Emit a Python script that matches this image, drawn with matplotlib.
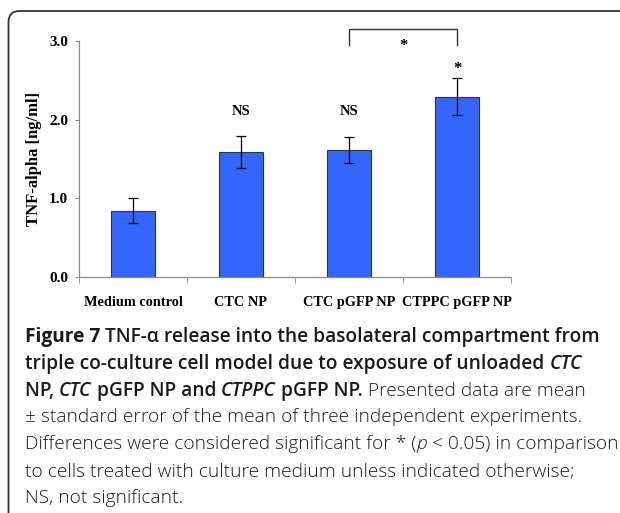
import matplotlib
matplotlib.use("Agg")
import matplotlib.pyplot as plt
from matplotlib.patches import FancyBboxPatch

# data
groups = ["Medium control", "CTC NP", "CTC pGFP NP", "CTPPC pGFP NP"]
tnf_mean = [0.845, 1.59, 1.62, 2.29]
tnf_sem = [0.155, 0.20, 0.165, 0.235]
sig_marks = ["", "NS", "NS", "*"]
yticks = [0.0, 1.0, 2.0, 3.0]

caption_lines = [
    [("Figure 7 ", "bold", "normal"),
     ("TNF-\u03b1 release into the basolateral compartment from", "semibold", "normal")],
    [("triple co-culture cell model due to exposure of unloaded ", "semibold", "normal"),
     ("CTC", "semibold", "italic")],
    [("NP, ", "semibold", "normal"), ("CTC", "semibold", "italic"),
     (" pGFP NP and ", "semibold", "normal"), ("CTPPC", "semibold", "italic"),
     (" pGFP NP.", "semibold", "normal"), (" Presented data are mean", "light", "normal")],
    [("\u00b1 standard error of the mean of three independent experiments.", "light", "normal")],
    [("Differences were considered significant for * (", "light", "normal"),
     ("p", "light", "italic"), (" < 0.05) in comparison", "light", "normal")],
    [("to cells treated with culture medium unless indicated otherwise;", "light", "normal")],
    [("NS, not significant.", "light", "normal")],
]

serif = "Liberation Serif"
sans = "Open Sans"

fig = plt.figure(figsize=(6.2, 5.13), dpi=100)

# background axes in pixel units for the frame and the caption
bg = fig.add_axes([0, 0, 1, 1])
bg.set_xlim(0, 620)
bg.set_ylim(513, 0)
bg.axis("off")
frame = FancyBboxPatch((8.5, 11), 700, 600, boxstyle="round,pad=0,rounding_size=11",
                       fc="none", ec="#333333", lw=1.3)
bg.add_patch(frame)

ax = fig.add_axes([79 / 620, 1 - 277 / 513, 432 / 620, 236 / 513])
ax.patch.set_alpha(0)
x = list(range(len(groups)))
ax.bar(x, tnf_mean, width=0.41, color="#3366FF", edgecolor="#333333", linewidth=0.8, zorder=2)
ax.errorbar(x, tnf_mean, yerr=tnf_sem, fmt="none", ecolor="black", elinewidth=0.9,
            capsize=3.5, capthick=0.9, zorder=3)
ax.set_xlim(-0.5, 3.5)
ax.set_ylim(0, 3.0)
ax.set_yticks(yticks)
ax.set_yticklabels([f"{v:.1f}" for v in yticks], fontfamily=serif, fontweight="bold", fontsize=11)
ax.set_xticks(x)
ax.set_xticklabels(groups, fontfamily=serif, fontweight="bold", fontsize=10.3)
ax.set_xticks([i - 0.5 for i in range(len(groups) + 1)], minor=True)
ax.tick_params(axis="x", which="major", length=0, pad=14)
ax.tick_params(axis="x", which="minor", length=4, direction="out", color="#888888")
ax.tick_params(axis="y", length=3, direction="out", color="#888888", pad=5)
for s in ["top", "right"]:
    ax.spines[s].set_visible(False)
for s in ["left", "bottom"]:
    ax.spines[s].set_color("#888888")
    ax.spines[s].set_linewidth(0.9)
ax.set_ylabel("TNF-alpha [ng/ml]", fontfamily=serif, fontweight="bold", fontsize=12, labelpad=5)

for i, m in enumerate(sig_marks):
    if m == "NS":
        ax.text(i, 2.10, m, ha="center", va="center", fontfamily=serif, fontweight="bold",
                fontsize=10.5, clip_on=False)
    elif m == "*":
        ax.text(i, 2.64, m, ha="center", va="center", fontfamily=serif, fontweight="bold",
                fontsize=12, clip_on=False)

# bracket between CTC pGFP NP and CTPPC pGFP NP
ax.plot([2, 2, 3, 3], [2.95, 3.15, 3.15, 2.95], color="#333333", lw=1.0, clip_on=False)
ax.text(2.5, 2.94, "*", ha="center", va="center", fontfamily=serif, fontweight="bold",
        fontsize=12, clip_on=False)

# caption, run by run
fig.canvas.draw()
renderer = fig.canvas.get_renderer()
y0 = 337
for k, line in enumerate(caption_lines):
    xpos = 25
    y = y0 + k * 26.8
    for txt, weight, style in line:
        t = bg.text(xpos, y, txt, ha="left", va="center", fontfamily=sans, fontweight=weight,
                    fontstyle=style, fontsize=13.8, color="#1a1a1a")
        bb = t.get_window_extent(renderer)
        xpos = bb.x1

fig.savefig("out.png", dpi=100)
